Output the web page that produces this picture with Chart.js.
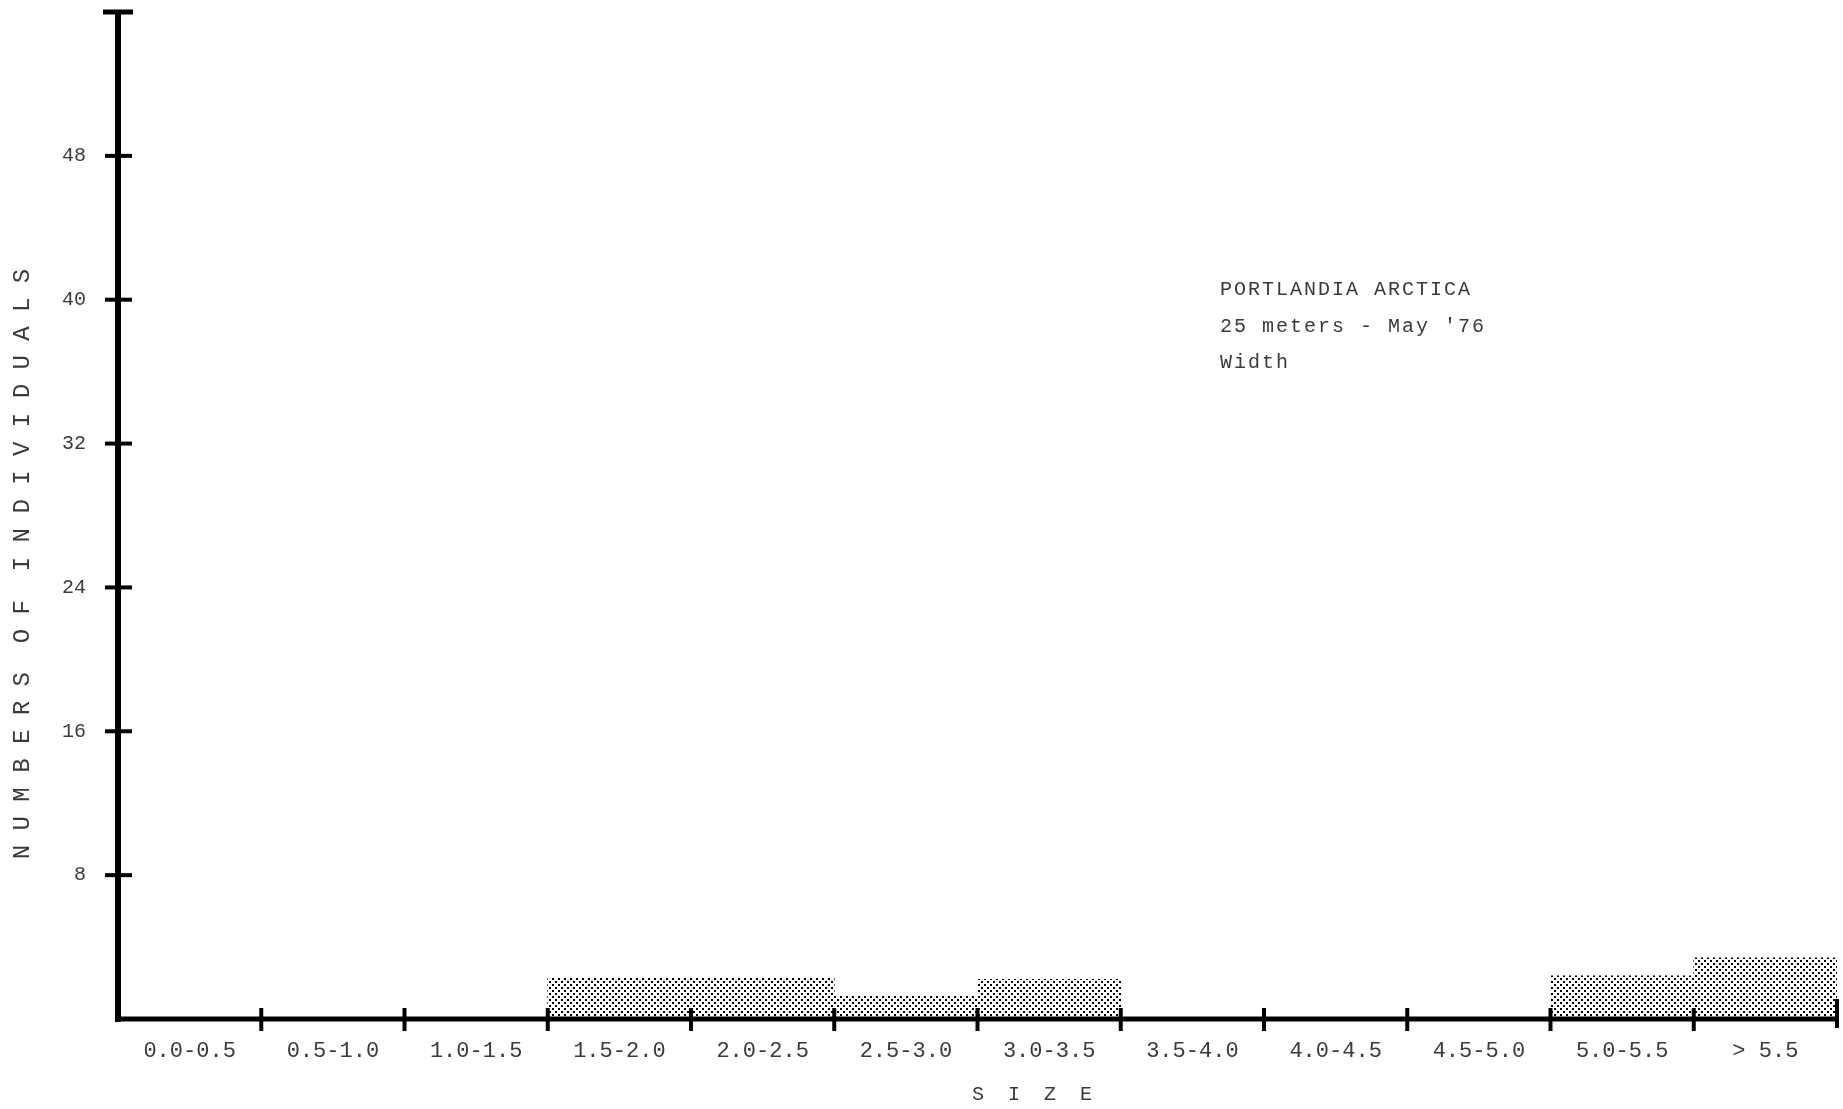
<!DOCTYPE html>
<html>
<head>
<meta charset="utf-8">
<script src="https://cdn.jsdelivr.net/npm/chart.js@4/dist/chart.umd.min.js"></script>
<style>
  html, body { margin: 0; padding: 0; background: #ffffff; }
  #wrap { width: 1843px; height: 1109px; }
</style>
</head>
<body>
<div id="wrap"><canvas id="chart" width="1843" height="1109"></canvas></div>
<script>
// Size classes (width) and number of individuals in each
const sizeClasses = ['0.0-0.5', '0.5-1.0', '1.0-1.5', '1.5-2.0', '2.0-2.5', '2.5-3.0',
                     '3.0-3.5', '3.5-4.0', '4.0-4.5', '4.5-5.0', '5.0-5.5', '> 5.5'];
const individuals = [0, 0, 0, 2.3, 2.3, 1.3, 2.2, 0, 0, 0, 2.4, 3.4];
const yTickValues = [8, 16, 24, 32, 40, 48, 56];
const yAxisTitle = 'N U M B E R S  O F  I N D I V I D U A L S';
const xAxisTitle = 'S  I  Z  E';
const noteLines = ['PORTLANDIA ARCTICA', "25 meters - May '76", 'Width'];

const MONO = '"Liberation Mono", "DejaVu Sans Mono", monospace';
const INK = '#3a3a3a';

// Stippled fill for the bars
function stipple() {
  const c = document.createElement('canvas');
  c.width = 6; c.height = 6;
  const g = c.getContext('2d');
  g.fillStyle = '#ffffff';
  g.fillRect(0, 0, 6, 6);
  g.fillStyle = '#000000';
  g.fillRect(0, 0, 2, 2);
  g.fillRect(3, 3, 2, 2);
  return g.createPattern(c, 'repeat');
}

// Heavy axes with crossing tick marks, plus titles and the caption block
const axesPlugin = {
  id: 'heavyAxes',
  afterDatasetsDraw(chart) {
    const { ctx, chartArea: a, scales } = chart;
    const xs = scales.x, ys = scales.y;
    ctx.save();
    ctx.strokeStyle = '#000000';
    ctx.lineCap = 'butt';

    // vertical axis
    ctx.lineWidth = 6;
    ctx.beginPath();
    ctx.moveTo(a.left, a.top);
    ctx.lineTo(a.left, a.bottom + 3);
    ctx.stroke();

    // horizontal axis
    ctx.lineWidth = 5;
    ctx.beginPath();
    ctx.moveTo(a.left - 3, a.bottom);
    ctx.lineTo(a.right, a.bottom);
    ctx.stroke();

    // y tick marks crossing the axis
    yTickValues.forEach((v, i) => {
      const y = ys.getPixelForValue(v);
      const top = i === yTickValues.length - 1;
      ctx.lineWidth = top ? 5 : 4;
      ctx.beginPath();
      ctx.moveTo(a.left - (top ? 15 : 13), y);
      ctx.lineTo(a.left + (top ? 15 : 14), y);
      ctx.stroke();
    });

    // x tick marks at class boundaries
    const half = (xs.getPixelForValue(1) - xs.getPixelForValue(0)) / 2;
    for (let i = 1; i <= sizeClasses.length; i++) {
      const x = xs.getPixelForValue(i - 1) + half;
      const last = i === sizeClasses.length;
      ctx.lineWidth = 4;
      ctx.beginPath();
      ctx.moveTo(x, a.bottom - (last ? 20 : 11));
      ctx.lineTo(x, a.bottom + (last ? 9 : 12));
      ctx.stroke();
    }
    ctx.restore();
  },
  afterDraw(chart) {
    const { ctx, chartArea: a } = chart;
    ctx.save();
    ctx.fillStyle = INK;

    // y axis title
    ctx.font = '24px ' + MONO;
    ctx.textAlign = 'center';
    ctx.textBaseline = 'middle';
    ctx.translate(23, 564);
    ctx.rotate(-Math.PI / 2);
    ctx.fillText(yAxisTitle, 0, 0);
    ctx.setTransform(1, 0, 0, 1, 0, 0);

    // x axis title
    ctx.font = '20px ' + MONO;
    ctx.fillText(xAxisTitle, 1032, 1095);

    // caption block
    ctx.font = '20px ' + MONO;
    ctx.textAlign = 'left';
    if ('letterSpacing' in ctx) ctx.letterSpacing = '2px';
    const capX = a.left + (a.right - a.left) * 0.641;
    [290, 327, 363].forEach((y, i) => ctx.fillText(noteLines[i], capX, y));
    ctx.restore();
  }
};

new Chart(document.getElementById('chart'), {
  type: 'bar',
  data: {
    labels: sizeClasses,
    datasets: [{
      data: individuals,
      backgroundColor: stipple(),
      borderWidth: 0,
      barPercentage: 1.0,
      categoryPercentage: 1.0
    }]
  },
  options: {
    responsive: false,
    animation: false,
    events: [],
    layout: { padding: { top: 12, right: 6, left: 0, bottom: 0 } },
    plugins: { legend: { display: false }, tooltip: { enabled: false }, title: { display: false } },
    scales: {
      x: {
        grid: { display: false },
        border: { display: false },
        ticks: {
          autoSkip: false, maxRotation: 0, minRotation: 0, padding: 11,
          color: INK, font: { family: MONO, size: 22 }
        },
        afterFit(s) { s.height = 90; s.paddingLeft = 0; s.paddingRight = 0; }
      },
      y: {
        min: 0, max: 56,
        grid: { display: false },
        border: { display: false },
        ticks: {
          stepSize: 8, padding: 24, color: INK,
          font: { family: MONO, size: 20 },
          callback: (v) => (v === 0 || v === 56) ? '' : String(v)
        },
        afterFit(s) { s.width = 118; s.paddingTop = 0; s.paddingBottom = 0; }
      }
    }
  },
  plugins: [axesPlugin]
});
</script>
</body>
</html>
